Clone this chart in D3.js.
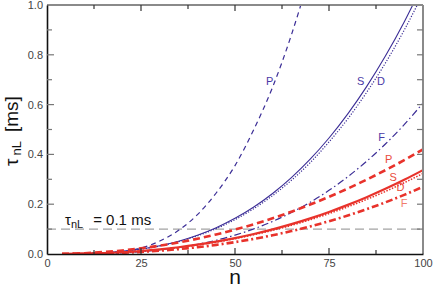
<!DOCTYPE html>
<html>
<head>
<meta charset="utf-8">
<script src="https://d3js.org/d3.v7.min.js"></script>
<style>
  body { margin: 0; background: #fff; }
  svg { display: block; font-family: Arial, "Liberation Sans", sans-serif; }
</style>
</head>
<body>
<div id="chart"></div>
<script>
// sample positions along n
const nValues = [4, 10, 15, 20, 25, 30, 35, 40, 45, 50, 55, 60, 65, 70, 75, 80, 85, 90, 95, 100];

// blue family
const blueP = [0.001, 0.002, 0.004, 0.009, 0.024, 0.052, 0.095, 0.158, 0.245, 0.355, 0.50, 0.67, 0.88, 1.13, 1.42, 1.75, 2.1, 2.5, 2.9, 3.3];
const blueS = [0.0002, 0.0017, 0.0049, 0.0108, 0.0199, 0.0333, 0.0515, 0.0754, 0.1057, 0.1432, 0.1887, 0.243, 0.3067, 0.3808, 0.4659, 0.5628, 0.6722, 0.795, 0.932, 1.084];
const blueD = [0.0002, 0.0016, 0.0047, 0.0104, 0.0192, 0.0321, 0.0497, 0.0728, 0.102, 0.138, 0.182, 0.2345, 0.296, 0.367, 0.45, 0.543, 0.649, 0.767, 0.899, 1.046];
const blueF = [0.0001, 0.0006, 0.002, 0.0048, 0.0095, 0.0164, 0.026, 0.0388, 0.0552, 0.0758, 0.1008, 0.1309, 0.1664, 0.2079, 0.2557, 0.3103, 0.3722, 0.4418, 0.5196, 0.606];

// red family
const redP = [0.0005, 0.0033, 0.0078, 0.0143, 0.0229, 0.0335, 0.0463, 0.0613, 0.0785, 0.098, 0.1197, 0.1436, 0.170, 0.1986, 0.2296, 0.263, 0.2985, 0.3366, 0.377, 0.42];
const redS = [0.00015, 0.00134, 0.00355, 0.0071, 0.0121, 0.0187, 0.0271, 0.0374, 0.0496, 0.0639, 0.0803, 0.0989, 0.1198, 0.1432, 0.169, 0.1973, 0.2282, 0.2617, 0.298, 0.337];
const redD = [0.00014, 0.0013, 0.0034, 0.0068, 0.0116, 0.018, 0.026, 0.0359, 0.0476, 0.0613, 0.0771, 0.0949, 0.115, 0.1375, 0.1622, 0.1894, 0.2191, 0.2512, 0.2861, 0.3235];
const redF = [0.0001, 0.00085, 0.00235, 0.0048, 0.0084, 0.0133, 0.0196, 0.0273, 0.0367, 0.0477, 0.0606, 0.0753, 0.092, 0.1107, 0.1315, 0.1546, 0.1799, 0.2075, 0.2375, 0.27];

const xTicks = [0, 25, 50, 75, 100];
const yTicks = [0.0, 0.2, 0.4, 0.6, 0.8, 1.0];
const threshold = 0.1;

// labels placed next to the curves: [text, n, tau]
const blueLabels = [["P", 59.2, 0.68], ["S", 83.4, 0.68], ["D", 88.8, 0.68], ["F", 89, 0.455]];
const redLabels = [["P", 90.9, 0.365], ["S", 92.1, 0.293], ["D", 94, 0.253], ["F", 95, 0.189]];

(() => {
    const styles = {
        blue: "#3b2d96",
        blueText: "#4a3aa6",
        red: "#e8322b",
        redText: "#ea4b3c",
        redLight: "#f07c6c",
        frameDark: "#111",
        frameLight: "#8a8a8a",
        tickText: "#444"
    };

    const width = 436;
    const height = 289;
    const margin = { top: 5, right: 13, bottom: 35, left: 47 };

    const svg = d3.select("#chart").append("svg")
        .attr("width", width)
        .attr("height", height);

    const x = d3.scaleLinear().domain([0, 100]).range([margin.left, width - margin.right]);
    const y = d3.scaleLinear().domain([0, 1]).range([height - margin.bottom, margin.top]);

    svg.append("clipPath").attr("id", "plot-clip")
        .append("rect")
        .attr("x", margin.left).attr("y", margin.top)
        .attr("width", width - margin.left - margin.right)
        .attr("height", height - margin.top - margin.bottom);

    // threshold line
    svg.append("line")
        .attr("x1", x(0)).attr("x2", x(100))
        .attr("y1", y(threshold)).attr("y2", y(threshold))
        .attr("stroke", "#8c8c8c")
        .attr("stroke-width", 1)
        .attr("stroke-dasharray", "9,5");

    const line = d3.line()
        .x((d, i) => x(nValues[i]))
        .y(d => y(d))
        .curve(d3.curveMonotoneX);

    const series = [
        { values: blueP, color: styles.blue, width: 1.2, dash: "5,4" },
        { values: blueD, color: styles.blue, width: 1.2, dash: "1.2,1.6" },
        { values: blueS, color: styles.blue, width: 1.1, dash: null },
        { values: blueF, color: styles.blue, width: 1.2, dash: "7,3,1.5,3" },
        { values: redF, color: styles.red, width: 2.6, dash: "7,3,2,3" },
        { values: redD, color: styles.red, width: 1.5, dash: "1.5,1.5" },
        { values: redS, color: styles.red, width: 2.2, dash: null },
        { values: redP, color: styles.red, width: 2.6, dash: "7,4" }
    ];

    const curves = svg.append("g").attr("clip-path", "url(#plot-clip)");
    series.forEach(s => {
        curves.append("path")
            .datum(s.values)
            .attr("fill", "none")
            .attr("stroke", s.color)
            .attr("stroke-width", s.width)
            .attr("stroke-dasharray", s.dash)
            .attr("d", line);
    });

    // frame: top and right gray, left and bottom dark
    svg.append("line")
        .attr("x1", x(0)).attr("x2", x(100)).attr("y1", y(1)).attr("y2", y(1))
        .attr("stroke", styles.frameLight).attr("stroke-width", 2);
    svg.append("line")
        .attr("x1", x(100)).attr("x2", x(100)).attr("y1", y(0)).attr("y2", y(1))
        .attr("stroke", styles.frameLight).attr("stroke-width", 2);

    const bottomAxis = svg.append("g")
        .attr("transform", `translate(0,${y(0)})`)
        .call(d3.axisBottom(x).tickValues(xTicks).tickSize(0).tickPadding(5).tickFormat(d3.format("d")));
    const leftAxis = svg.append("g")
        .attr("transform", `translate(${x(0)},0)`)
        .call(d3.axisLeft(y).tickValues(yTicks).tickSize(0).tickPadding(4).tickFormat(d3.format(".1f")));

    [bottomAxis, leftAxis].forEach(g => {
        g.select(".domain").attr("stroke", styles.frameDark).attr("stroke-width", 1.6);
        g.selectAll("text").attr("fill", styles.tickText).style("font-size", "11px");
    });

    // inward ticks on all four sides
    const tickG = svg.append("g").attr("stroke-width", 1.2);
    d3.range(12.5, 100, 12.5).forEach(v => {
        const len = v % 25 === 0 ? 6 : 4;
        tickG.append("line").attr("x1", x(v)).attr("x2", x(v))
            .attr("y1", y(0)).attr("y2", y(0) - len).attr("stroke", "#333");
        tickG.append("line").attr("x1", x(v)).attr("x2", x(v))
            .attr("y1", y(1)).attr("y2", y(1) + len).attr("stroke", "#333");
    });
    d3.range(1, 10).forEach(k => {
        const v = k / 10;
        tickG.append("line").attr("x1", x(0)).attr("x2", x(0) + (k % 2 === 0 ? 7 : 5))
            .attr("y1", y(v)).attr("y2", y(v)).attr("stroke", "#777");
        tickG.append("line").attr("x1", x(100)).attr("x2", x(100) - 6)
            .attr("y1", y(v)).attr("y2", y(v)).attr("stroke", "#777");
    });

    // curve labels
    svg.append("g").selectAll("text")
        .data(blueLabels).enter().append("text")
        .attr("x", d => x(d[1])).attr("y", d => y(d[2]))
        .attr("text-anchor", "middle")
        .attr("fill", styles.blueText)
        .style("font-size", "11px")
        .text(d => d[0]);
    svg.append("g").selectAll("text")
        .data(redLabels).enter().append("text")
        .attr("x", d => x(d[1])).attr("y", d => y(d[2]))
        .attr("text-anchor", "middle")
        .attr("fill", (d, i) => i === 3 ? styles.redLight : styles.redText)
        .style("font-size", "11px")
        .text(d => d[0]);

    // threshold annotation
    const note = svg.append("text")
        .attr("x", 65).attr("y", 225)
        .attr("fill", "#111")
        .style("font-size", "15px");
    note.append("tspan").text("τ");
    note.append("tspan").attr("dy", 3).style("font-size", "11px").text("nL");
    note.append("tspan").attr("dy", -3).attr("dx", 10).text("= 0.1 ms");

    // axis titles
    svg.append("text")
        .attr("x", x(50)).attr("y", 284)
        .attr("text-anchor", "middle")
        .attr("fill", "#111")
        .style("font-size", "21px")
        .text("n");

    const yTitle = svg.append("text")
        .attr("transform", "translate(18,166) rotate(-90)")
        .attr("fill", "#111")
        .style("font-size", "19px");
    yTitle.append("tspan").text("τ");
    yTitle.append("tspan").attr("dx", 3).attr("dy", 3).style("font-size", "13px").text("nL");
    yTitle.append("tspan").attr("dy", -3).attr("dx", 9).text("[ms]");
})();
</script>
</body>
</html>
